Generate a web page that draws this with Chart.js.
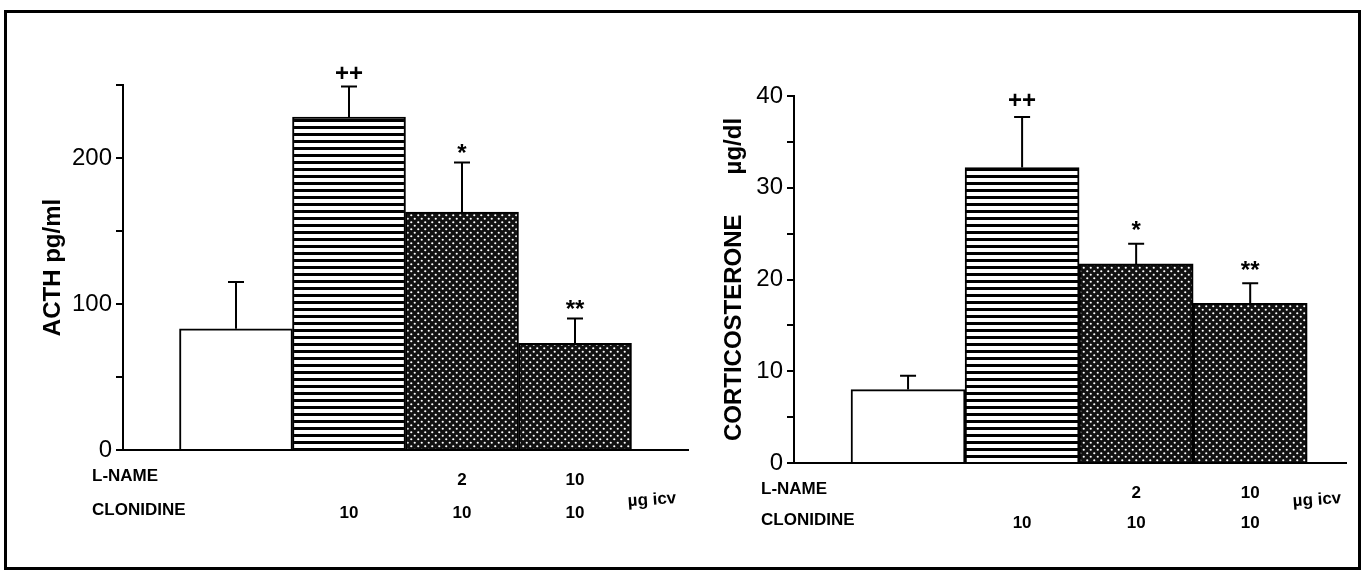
<!DOCTYPE html>
<html>
<head>
<meta charset="utf-8">
<script src="https://cdn.jsdelivr.net/npm/chart.js@4"></script>
<style>
  html, body { margin: 0; padding: 0; background: #fff; }
  body { width: 1364px; height: 578px; position: relative; overflow: hidden; }
  #frame { position: absolute; left: 4px; top: 10px; width: 1351px; height: 554px; border: 3px solid #000; }
  #acth { position: absolute; left: 0; top: 0; }
  #cort { position: absolute; left: 690px; top: 0; }
</style>
</head>
<body>
<div id="frame"></div>
<canvas id="acth" width="700" height="578"></canvas>
<canvas id="cort" width="674" height="578"></canvas>
<script>
// groups: control, clonidine, L-NAME 2 + clonidine, L-NAME 10 + clonidine
const groups = ['Control', 'Clonidine 10', 'L-NAME 2 + Clonidine 10', 'L-NAME 10 + Clonidine 10'];
const lnameDose = ['', '', '2', '10'];
const clonidineDose = ['', '10', '10', '10'];
const acthMean = [83, 228, 163, 73];
const acthSem = [32, 21, 34, 17];
const cortMean = [8.0, 32.2, 21.7, 17.4];
const cortSem = [1.5, 5.5, 2.2, 2.2];
const signif = ['', '++', '*', '**'];

const FONT = '"Liberation Sans", Arial, Helvetica, sans-serif';
Chart.defaults.font.family = FONT;
Chart.defaults.color = '#000';

function stripes() {
    const c = document.createElement('canvas');
    c.width = 8; c.height = 7;
    const g = c.getContext('2d');
    g.fillStyle = '#fff'; g.fillRect(0, 0, 8, 7);
    g.fillStyle = '#000'; g.fillRect(0, 0, 8, 3);
    return g.createPattern(c, 'repeat');
}

function dots(r) {
    const c = document.createElement('canvas');
    c.width = 7; c.height = 7;
    const g = c.getContext('2d');
    g.fillStyle = '#111'; g.fillRect(0, 0, 7, 7);
    g.fillStyle = '#fff';
    [[1.75, 1.75], [5.25, 5.25]].forEach(([x, y]) => {
        g.beginPath(); g.arc(x, y, r, 0, Math.PI * 2); g.fill();
    });
    return g.createPattern(c, 'repeat');
}

function makeChart(id, cfg) {
    // error bars, significance marks and the dose table under the axis
    const extras = {
        id: 'extras',
        afterDatasetsDraw(chart) {
            const ctx = chart.ctx;
            const yScale = chart.scales.y;
            const xScale = chart.scales.x;
            const area = chart.chartArea;
            const meta = chart.getDatasetMeta(0);
            ctx.save();
            ctx.strokeStyle = '#000';
            ctx.fillStyle = '#000';
            ctx.lineWidth = 2;
            meta.data.forEach((bar, i) => {
                const top = yScale.getPixelForValue(cfg.mean[i] + cfg.sem[i]);
                ctx.beginPath();
                ctx.moveTo(bar.x, bar.y);
                ctx.lineTo(bar.x, top);
                ctx.moveTo(bar.x - 8, top);
                ctx.lineTo(bar.x + 8, top);
                ctx.stroke();
                if (signif[i]) {
                    ctx.font = 'bold 24px ' + FONT;
                    ctx.textAlign = 'center';
                    ctx.textBaseline = 'alphabetic';
                    const m = ctx.measureText(signif[i]);
                    const cy = top - cfg.markDy;
                    ctx.fillText(signif[i], bar.x, cy + (m.actualBoundingBoxAscent - m.actualBoundingBoxDescent) / 2);
                }
            });

            ctx.font = 'bold 17px ' + FONT;
            ctx.textBaseline = 'middle';
            ctx.textAlign = 'left';
            const row1 = area.bottom + cfg.row1, row2 = area.bottom + cfg.row2;
            ctx.fillText('L-NAME', area.left - cfg.headDx, row1);
            ctx.fillText('CLONIDINE', area.left - cfg.headDx, row2);
            ctx.textAlign = 'center';
            groups.forEach((g, i) => {
                const x = xScale.getPixelForValue(i + 1);
                ctx.fillText(lnameDose[i], x, row1 + 4);
                ctx.fillText(clonidineDose[i], x, row2 + 3);
            });
            ctx.translate(area.right - cfg.unitDx, area.bottom + cfg.unitDy);
            ctx.rotate(-0.07);
            ctx.fillText('\u00b5g icv', 0, 0);
            ctx.restore();
        }
    };

    return new Chart(document.getElementById(id), {
        type: 'bar',
        data: {
            datasets: [{
                label: cfg.label,
                data: cfg.mean.map((v, i) => ({ x: i + 1, y: v })),
                backgroundColor: ['#fff', stripes(), dots(1.1), dots(1.1)],
                borderColor: '#000',
                borderWidth: 2,
                categoryPercentage: 1,
                barPercentage: 1
            }]
        },
        options: {
            responsive: false,
            animation: false,
            devicePixelRatio: 1,
            layout: { padding: cfg.padding },
            plugins: { legend: { display: false }, tooltip: { enabled: false } },
            scales: {
                x: {
                    type: 'linear',
                    min: 0,
                    max: cfg.xMax,
                    offset: false,
                    // one tick per group so the bars fill the whole group width
                    afterBuildTicks: s => { s.ticks = groups.map((g, i) => ({ value: i + 1 })); },
                    afterFit: s => { s.height = 0; },
                    ticks: { display: false },
                    grid: { display: false, drawTicks: false, offset: false },
                    border: { color: '#000', width: 2 }
                },
                y: {
                    min: 0,
                    max: cfg.yMax,
                    afterFit: s => { s.width = cfg.axisWidth; },
                    ticks: {
                        stepSize: cfg.step,
                        autoSkip: false,
                        padding: 4,
                        color: '#000',
                        font: { size: 24 },
                        callback: v => (v % (cfg.step * 2) === 0 ? v : '')
                    },
                    grid: { drawOnChartArea: false, tickLength: 7, color: '#000', lineWidth: 2 },
                    border: { color: '#000', width: 2 },
                    title: {
                        display: true,
                        text: cfg.title,
                        color: '#000',
                        font: { size: 24, weight: 'bold' },
                        padding: { top: cfg.titlePad, bottom: 0 }
                    }
                }
            }
        },
        plugins: [extras]
    });
}

makeChart('acth', {
    label: 'ACTH',
    title: 'ACTH pg/ml',
    mean: acthMean,
    sem: acthSem,
    yMax: 250,
    step: 50,
    xMax: 5.0,
    axisWidth: 123,
    titlePad: 39,
    padding: { left: 0, top: 85, right: 12, bottom: 128 },
    row1: 26, row2: 60, headDx: 31,
    unitDx: 36, unitDy: 50,
    markDy: 14
});

makeChart('cort', {
    label: 'Corticosterone',
    title: 'CORTICOSTERONE      \u00b5g/dl',
    mean: cortMean,
    sem: cortSem,
    yMax: 40,
    step: 5,
    xMax: 4.84,
    axisWidth: 104,
    titlePad: 30,
    padding: { left: 0, top: 96, right: 18, bottom: 115 },
    row1: 26, row2: 57, headDx: 33,
    unitDx: 29, unitDy: 37,
    markDy: 18
});
</script>
</body>
</html>
